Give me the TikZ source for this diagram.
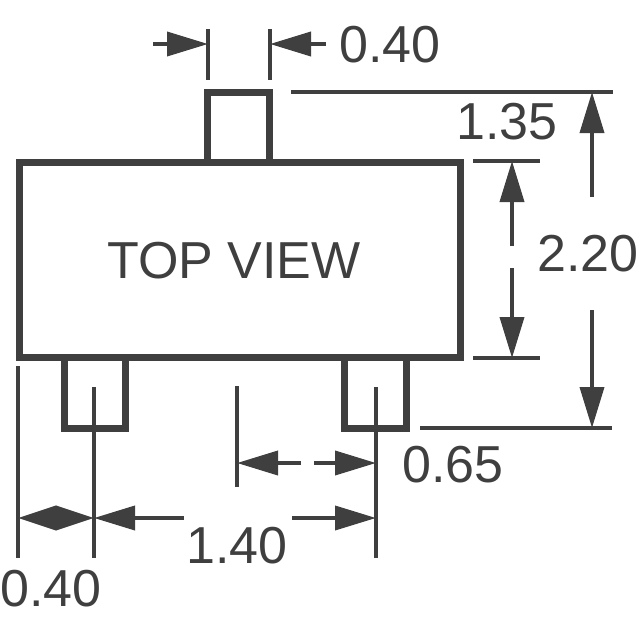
\documentclass[tikz,border=0pt]{standalone}
\usepackage{fontspec}
\setmainfont{Liberation Sans}
\usetikzlibrary{arrows.meta}
\definecolor{ink}{HTML}{3F3F3F}
\tikzset{
  body/.style={draw=ink,line width=7pt,miter limit=10},
  dimline/.style={draw=ink,line width=3.8pt},
  dimarrow/.style={draw=ink,line width=3.8pt,-{Triangle[length=41pt,width=24pt,fill=ink]}},
  halfdiamond/.style={draw=ink,line width=3.8pt,-{Triangle[length=38pt,width=24pt,fill=ink]}},
  label/.style={text=ink,anchor=base,inner sep=0pt,outer sep=0pt,font=\fontsize{52}{52}\selectfont},
}
\begin{document}
\begin{tikzpicture}[x=1pt,y=-1pt]
\useasboundingbox (0,0) rectangle (640,640);
% package outline
\draw[body] (19,162.5) rectangle (460,357.5);
\draw[body] (207.5,162.5) -- (207.5,92.5) -- (269.5,92.5) -- (269.5,162.5);
\draw[body] (64.5,357.5) -- (64.5,428) -- (125.5,428) -- (125.5,357.5);
\draw[body] (344.5,357.5) -- (344.5,428) -- (406.5,428) -- (406.5,357.5);
% extension lines
\draw[dimline] (208,29) -- (208,80);
\draw[dimline] (270,29) -- (270,80);
\draw[dimline] (291,92) -- (613,92);
\draw[dimline] (473,161) -- (540,161);
\draw[dimline] (473,358) -- (540,358);
\draw[dimline] (420,428) -- (612,428);
\draw[dimline] (18,366) -- (18,558);
\draw[dimline] (94,387) -- (94,558);
\draw[dimline] (376,387) -- (376,558);
\draw[dimline] (237,386) -- (237,487);
% dimension arrows
\draw[dimarrow] (153,44) -- (208,44);
\draw[dimarrow] (326,44) -- (270,44);
\draw[dimarrow] (592,197) -- (592,92);
\draw[dimarrow] (592,310) -- (592,428);
\draw[dimarrow] (512,246) -- (512,161);
\draw[dimarrow] (512,268) -- (512,358);
\draw[dimarrow] (301,463) -- (237,463);
\draw[dimarrow] (314,463) -- (376,463);
\draw[halfdiamond] (56,518) -- (18,518);
\draw[halfdiamond] (56,518) -- (94,518);
\draw[dimarrow] (184,518) -- (94,518);
\draw[dimarrow] (292,518) -- (376,518);
% labels
\node[label] (topview) at (234,278) {TOP VIEW};
\node[label] (dimA) at (390,62) {0.40};
\node[label] (dimB) at (507,139) {1.35};
\node[label] (dimC) at (588,271) {2.20};
\node[label] (dimD) at (453,482) {0.65};
\node[label] (dimE) at (237,563) {1.40};
\node[label] (dimF) at (51,606) {0.40};
\end{tikzpicture}
\end{document}
